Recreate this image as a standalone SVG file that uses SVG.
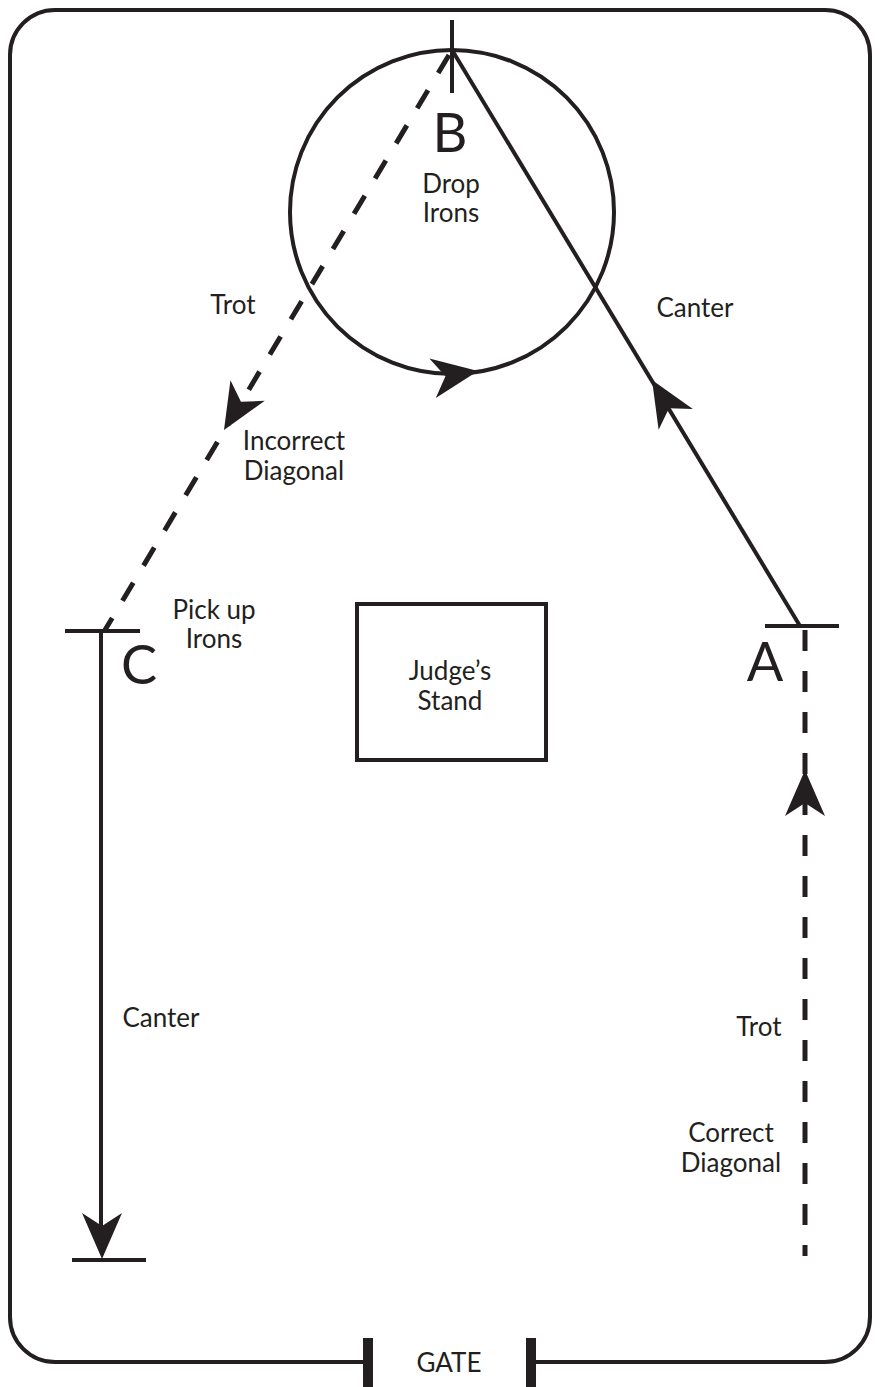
<svg xmlns="http://www.w3.org/2000/svg" width="880" height="1387" viewBox="0 0 880 1387">
  <style>
    .ln { fill: none; stroke: #231f20; stroke-width: 4; }
    .dash { fill: none; stroke: #231f20; stroke-width: 5; stroke-dasharray: 21 20; }
    .lbl { font-family: Lato, "Noto Sans", sans-serif; font-size: 26px; fill: #231f20; text-anchor: middle; }
    .big { font-family: Lato, "Noto Sans", sans-serif; font-size: 54px; fill: #231f20; text-anchor: middle; }
    .head { fill: #231f20; }
  </style>
  <defs>
    <!-- notched arrowhead pointing along +x, tip at origin -->
    <path id="arrowhead" d="M0,0 L-46,-20 L-33,0 L-46,20 Z"/>
  </defs>
  <rect width="880" height="1387" fill="#ffffff"/>

  <!-- arena fence with gate opening -->
  <g id="arena">
    <path class="ln" stroke-width="4.5" d="M368,1362 H55 A45,45 0 0 1 10,1317 V55 A45,45 0 0 1 55,10 H825 A45,45 0 0 1 870,55 V1317 A45,45 0 0 1 825,1362 H531"/>
  </g>
  <g id="gate">
    <rect x="363" y="1338" width="10" height="49" fill="#231f20"/>
    <rect x="526" y="1338" width="10" height="49" fill="#231f20"/>
    <text class="lbl" x="449" y="1372" font-size="24">GATE</text>
  </g>

  <!-- judge's stand -->
  <g id="judges-stand">
    <rect class="ln" x="357" y="604" width="189" height="156"/>
    <text class="lbl" x="450" y="680">Judge’s</text>
    <text class="lbl" x="450" y="710">Stand</text>
  </g>

  <!-- marker B with circle -->
  <g id="marker-b">
    <line class="ln" x1="452" y1="20" x2="452" y2="93"/>
    <text class="big" x="450" y="152">B</text>
    <text class="lbl" x="451" y="193">Drop</text>
    <text class="lbl" x="451" y="222">Irons</text>
  </g>
  <g id="circle">
    <circle class="ln" stroke-width="4.5" cx="452" cy="212" r="162"/>
  </g>

  <!-- marker A -->
  <g id="marker-a">
    <line class="ln" x1="765" y1="626" x2="839" y2="626"/>
    <text class="big" x="765" y="681">A</text>
  </g>

  <!-- marker C -->
  <g id="marker-c">
    <line class="ln" x1="65" y1="631" x2="140" y2="631"/>
    <text class="big" x="139" y="684">C</text>
    <text class="lbl" x="214" y="619">Pick up</text>
    <text class="lbl" x="214" y="648">Irons</text>
  </g>

  <!-- end of canter -->
  <g id="end-mark">
    <line class="ln" x1="72" y1="1260" x2="146" y2="1260"/>
  </g>

  <!-- paths and arrows -->
  <g id="connectors">
    <line class="dash" x1="805" y1="630" x2="805" y2="1256"/>
    <use href="#arrowhead" class="head" transform="translate(805,770) rotate(-90)"/>

    <line class="ln" x1="800" y1="626" x2="452" y2="50"/>
    <use href="#arrowhead" class="head" transform="translate(652,380) rotate(-121.1)"/>

    <use href="#arrowhead" class="head" transform="translate(478,371) rotate(-9.2)"/>

    <line class="dash" x1="449" y1="55" x2="105" y2="630"/>
    <use href="#arrowhead" class="head" transform="translate(224,430) rotate(120.9)"/>

    <line class="ln" x1="101" y1="631" x2="101" y2="1240"/>
    <use href="#arrowhead" class="head" transform="translate(102,1259) rotate(90)"/>
  </g>

  <!-- gait labels -->
  <g id="labels">
    <text class="lbl" x="233" y="314">Trot</text>
    <text class="lbl" x="695" y="317">Canter</text>
    <text class="lbl" x="294" y="450">Incorrect</text>
    <text class="lbl" x="294" y="480">Diagonal</text>
    <text class="lbl" x="161" y="1027">Canter</text>
    <text class="lbl" x="759" y="1036">Trot</text>
    <text class="lbl" x="731" y="1142">Correct</text>
    <text class="lbl" x="731" y="1172">Diagonal</text>
  </g>
</svg>
